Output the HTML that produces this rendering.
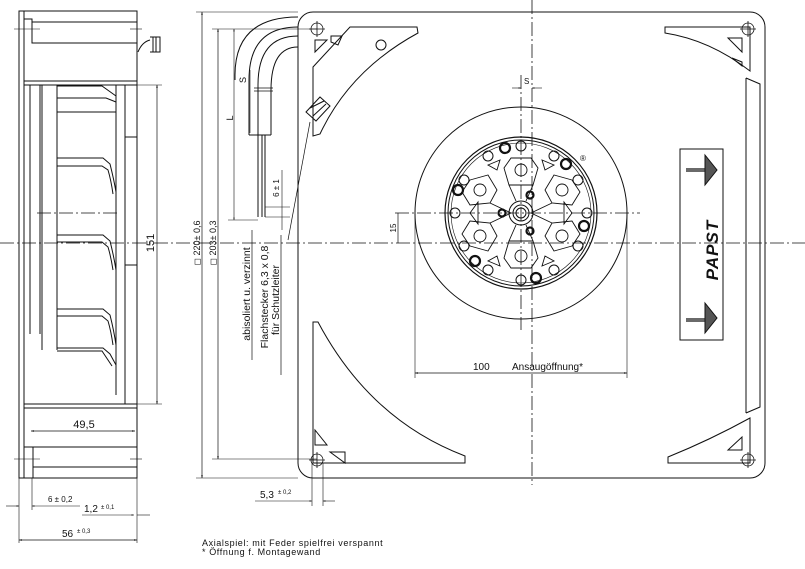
<!DOCTYPE html>
<html><head><meta charset="utf-8"><style>
html,body{margin:0;padding:0;background:#fff;}
svg{display:block;}
text{font-family:"Liberation Sans",sans-serif;fill:#111;stroke:none;}
</style></head><body>
<svg width="805" height="569" viewBox="0 0 805 569" xmlns="http://www.w3.org/2000/svg" fill="none" stroke="#111" stroke-width="1">
<defs>
<marker id="a" viewBox="0 0 10 10" refX="10" refY="5" markerWidth="6" markerHeight="4" orient="auto-start-reverse"><path d="M0,2 L10,5 L0,8z" fill="#111" stroke="none"/></marker>
</defs>
<!-- centerlines -->
<g stroke-dasharray="14 3 2 3" stroke-width="0.8">
<line x1="0" y1="243" x2="805" y2="243"/>
<line x1="532" y1="0" x2="532" y2="485"/>
<line x1="521" y1="75" x2="521" y2="330"/>
<line x1="395" y1="213" x2="640" y2="213"/>
<line x1="37" y1="213" x2="120" y2="213"/>
</g>

<!-- SIDE VIEW -->
<rect x="19" y="11" width="118" height="467"/>
<line x1="24" y1="11" x2="24" y2="478"/>
<line x1="24" y1="81" x2="137" y2="81"/>
<line x1="24" y1="85" x2="137" y2="85"/>
<line x1="24" y1="404" x2="137" y2="404"/>
<line x1="24" y1="408" x2="137" y2="408"/>
<polyline points="24,19 32,19 32,43 137,43"/>
<line x1="32" y1="22" x2="137" y2="22"/>
<line x1="14" y1="29" x2="40" y2="29" stroke-width="0.6"/>
<line x1="130" y1="29" x2="142" y2="29" stroke-width="0.6"/>
<path d="M138,52 Q142,42 150,40 M150,37 L160,37 L160,52 L150,52 M153,37 V52 M156,37 V52"/>
<line x1="30" y1="85" x2="30" y2="334"/>
<line x1="40" y1="85" x2="40" y2="334"/>
<line x1="42" y1="85" x2="42" y2="350"/>
<line x1="57" y1="85" x2="57" y2="350"/>
<line x1="116" y1="85" x2="116" y2="395"/>
<line x1="125" y1="85" x2="125" y2="404"/>
<rect x="125" y="85" width="12" height="52"/>
<line x1="125" y1="265" x2="137" y2="265"/>
<g>
<path d="M57,86 H102 L116,96 M57,98 H106 L116,102"/>
<line x1="57" y1="112" x2="116" y2="112"/>
<path d="M57,158 H103 L110,164 Q114,180 116,192 M57,166 H102 L108,170 Q111,180 113,194"/>
<path d="M57,235 H103 L110,241 Q114,257 116,270 M57,242 H102 L108,247 Q111,257 113,270"/>
<path d="M57,309 H103 L110,315 Q114,331 116,345 M57,316 H102 L108,321 Q111,331 113,345"/>
<path d="M57,348 H103 L110,354 L116,365 M57,351 H102 L112,366"/>
</g>
<line x1="33" y1="447" x2="137" y2="447"/>
<line x1="33" y1="467" x2="137" y2="467"/>
<polyline points="24,447 33,447 33,478"/>
<line x1="14" y1="459" x2="40" y2="459" stroke-width="0.6"/>
<line x1="130" y1="459" x2="142" y2="459" stroke-width="0.6"/>
<line x1="137" y1="85" x2="162" y2="85" stroke-width="0.6"/>
<line x1="137" y1="404" x2="162" y2="404" stroke-width="0.6"/>
<line x1="157" y1="85" x2="157" y2="404" marker-start="url(#a)" marker-end="url(#a)" stroke-width="0.7"/>
<text transform="translate(154,243) rotate(-90)" font-size="11" text-anchor="middle">151</text>
<line x1="31" y1="431" x2="135" y2="431" marker-start="url(#a)" marker-end="url(#a)" stroke-width="0.7"/>
<text x="84" y="428" font-size="11" text-anchor="middle">49,5</text>
<line x1="19" y1="478" x2="19" y2="543" stroke-width="0.6"/>
<line x1="137" y1="478" x2="137" y2="543" stroke-width="0.6"/>
<line x1="32" y1="478" x2="32" y2="510" stroke-width="0.6"/>
<line x1="6" y1="506" x2="19" y2="506" marker-end="url(#a)" stroke-width="0.6"/>
<line x1="32" y1="506" x2="80" y2="506" marker-start="url(#a)" stroke-width="0.6"/>
<text x="48" y="502" font-size="8">6 ± 0,2</text>
<line x1="82" y1="515" x2="134" y2="515" marker-end="url(#a)" stroke-width="0.6"/>
<line x1="137" y1="515" x2="150" y2="515" stroke-width="0.6"/>
<text x="84" y="512" font-size="10">1,2</text><text x="101" y="509" font-size="6">± 0,1</text>
<line x1="19" y1="540" x2="137" y2="540" marker-start="url(#a)" marker-end="url(#a)" stroke-width="0.7"/>
<text x="62" y="537" font-size="10">56</text><text x="77" y="533" font-size="6">± 0,3</text>

<!-- FRONT VIEW -->
<rect x="298" y="12" width="467" height="466" rx="15"/>
<line x1="196" y1="12" x2="298" y2="12" stroke-width="0.6"/>
<line x1="196" y1="478" x2="298" y2="478" stroke-width="0.6"/>
<line x1="202" y1="12" x2="202" y2="478" marker-start="url(#a)" marker-end="url(#a)" stroke-width="0.7"/>
<line x1="212" y1="29" x2="317" y2="29" stroke-width="0.6"/>
<line x1="212" y1="459" x2="317" y2="459" stroke-width="0.6"/>
<line x1="218" y1="29" x2="218" y2="459" marker-start="url(#a)" marker-end="url(#a)" stroke-width="0.7"/>
<text transform="translate(200,243) rotate(-90)" font-size="9" text-anchor="middle">◻ 220± 0,6</text>
<text transform="translate(216,243) rotate(-90)" font-size="9" text-anchor="middle">◻ 203± 0,3</text>
<g stroke-width="0.8">
<circle cx="317" cy="29" r="6"/><circle cx="748" cy="29" r="6"/><circle cx="317" cy="460" r="6"/><circle cx="748" cy="460" r="6"/>
<path d="M309,29h16M317,21v16M740,29h16M748,21v16M309,460h16M317,452v16M740,460h16M748,452v16"/>
</g>
<path d="M313,67 L350,27 L417,27 L418,33 Q350,70 320,134 L313,136 Z"/>
<path d="M315,40 L315,52 L327,40 Z M331,36 L342,36 L338,45 L331,42 Z"/>
<circle cx="381" cy="45" r="5"/>
<path d="M306,112 L320,97 L330,106 L316,121 Z M310,108 L324,101 M313,116 L326,104"/>
<path d="M313,322 L313,463 L465,463 L465,456 Q370,420 318,322 Z"/>
<path d="M315,430 L315,445 L327,445 Z M330,452 L345,452 L345,463 Z"/>
<path d="M665,27 L750,27 L750,71 Q710,40 665,33 Z"/>
<path d="M742,38 L742,52 L728,38 Z M732,58 L742,62 L742,66 Z"/>
<path d="M668,463 L750,463 L750,418 Q710,440 668,457 Z"/>
<path d="M742,450 L742,437 L728,450 Z"/>
<line x1="746" y1="78" x2="746" y2="413"/>
<path d="M746,78 L760,84 L760,407 L746,413"/>
<rect x="680" y="149" width="43" height="191"/>
<g stroke-width="1.2"><path d="M686,169 H705 M686,171 H705 M686,319 H705 M686,321 H705"/></g>
<path d="M705,155 L717,170 L705,185 Z M705,303 L717,318 L705,333 Z" fill="#555"/>
<text transform="translate(718,250) rotate(-90)" font-size="17" font-weight="bold" font-style="italic" text-anchor="middle" style="letter-spacing:1px">PAPST</text>
<circle cx="521" cy="213" r="106"/>
<circle cx="521" cy="213" r="76" stroke-width="1.2"/>
<circle cx="521" cy="213" r="73"/>
<circle cx="521" cy="213" r="70" stroke-width="0.6"/>
<g stroke-width="1">
<circle cx="521" cy="213" r="12"/><circle cx="521" cy="213" r="8"/><circle cx="521" cy="213" r="5"/>
</g>
<g stroke-width="0.9">
<path d="M511,158 L531,158 L538,168 L533,185 L509,185 L504,168 Z"/>
<path d="M511,268 L531,268 L538,258 L533,241 L509,241 L504,258 Z"/>
<path d="M470,180 L488,175 L497,190 L490,203 L470,205 L462,192 Z"/>
<path d="M572,180 L554,175 L545,190 L552,203 L572,205 L580,192 Z"/>
<path d="M470,246 L488,251 L497,236 L490,223 L470,221 L462,234 Z"/>
<path d="M572,246 L554,251 L545,236 L552,223 L572,221 L580,234 Z"/>
<circle cx="521" cy="170" r="6"/><circle cx="521" cy="256" r="6"/>
<circle cx="480" cy="190" r="6"/><circle cx="562" cy="190" r="6"/>
<circle cx="480" cy="236" r="6"/><circle cx="562" cy="236" r="6"/>
<path d="M490,203 L511,213 L490,223 M552,203 L531,213 L552,223 M509,185 L516,201 M533,185 L526,201 M509,241 L516,225 M533,241 L526,225"/>
<path d="M470,213 L478,202 L478,224 Z M572,213 L564,202 L564,224 Z M488,165 L500,160 L497,170 Z M554,165 L542,160 L545,170 Z M488,261 L500,266 L497,256 Z M554,261 L542,266 L545,256 Z"/>
</g>
<g stroke-width="1">
<circle cx="521" cy="146" r="5"/><circle cx="521" cy="280" r="5"/>
<circle cx="455" cy="213" r="5"/><circle cx="587" cy="213" r="5"/>
<circle cx="488" cy="156" r="5"/><circle cx="554" cy="156" r="5"/>
<circle cx="488" cy="270" r="5"/><circle cx="554" cy="270" r="5"/>
<circle cx="464" cy="180" r="5"/><circle cx="578" cy="180" r="5"/>
<circle cx="464" cy="246" r="5"/><circle cx="578" cy="246" r="5"/>
</g>
<g stroke-width="2.2">
<circle cx="505" cy="148" r="5"/><circle cx="566" cy="164" r="5"/>
<circle cx="458" cy="190" r="5"/><circle cx="584" cy="226" r="5"/>
<circle cx="475" cy="261" r="5"/><circle cx="536" cy="278" r="5"/>
<circle cx="530" cy="195" r="3.5"/><circle cx="502" cy="213" r="3.5"/><circle cx="530" cy="231" r="3.5"/>
</g>
<text x="580" y="161" font-size="8">®</text>
<line x1="512" y1="88" x2="521" y2="88" marker-end="url(#a)" stroke-width="0.6"/>
<line x1="542" y1="88" x2="532" y2="88" marker-end="url(#a)" stroke-width="0.6"/>
<text x="524" y="84" font-size="8">S</text>
<line x1="398" y1="213" x2="398" y2="243" stroke-width="0.7"/>
<text transform="translate(396,228) rotate(-90)" font-size="8" text-anchor="middle">15</text>
<line x1="415" y1="213" x2="415" y2="378" stroke-width="0.6"/>
<line x1="627" y1="213" x2="627" y2="378" stroke-width="0.6"/>
<line x1="415" y1="373" x2="627" y2="373" marker-start="url(#a)" marker-end="url(#a)" stroke-width="0.7"/>
<text x="473" y="370" font-size="10">100</text>
<text x="512" y="370" font-size="10">Ansaugöffnung*</text>
<path d="M298,17 Q235,17 235,75 L235,80"/>
<path d="M298,27 Q249,27 249,80 L249,135"/>
<path d="M298,36 Q258,36 258,85 L258,135"/>
<path d="M298,47 Q271,47 271,90 L271,135"/>
<line x1="249" y1="135" x2="271" y2="135"/>
<path d="M258,135 V217 M262,135 V217 M265,135 V217"/>
<path d="M254,88 H273 M254,91 H273" stroke-width="0.7"/>
<line x1="234" y1="29" x2="234" y2="220" marker-start="url(#a)" marker-end="url(#a)" stroke-width="0.6"/>
<line x1="228" y1="220" x2="258" y2="220" stroke-width="0.6"/>
<line x1="250" y1="70" x2="250" y2="133" stroke-width="0.6"/>
<text transform="translate(246,80) rotate(-90)" font-size="9" text-anchor="middle">S</text>
<text transform="translate(233,118) rotate(-90)" font-size="9" text-anchor="middle">L</text>
<line x1="265" y1="207" x2="290" y2="207" stroke-width="0.6"/>
<line x1="265" y1="217" x2="290" y2="217" stroke-width="0.6"/>
<line x1="282" y1="170" x2="282" y2="230" stroke-width="0.6"/>
<text transform="translate(279,188) rotate(-90)" font-size="8" text-anchor="middle">6 ± 1</text>
<line x1="310" y1="122" x2="288" y2="240" stroke-width="0.7"/>
<line x1="252" y1="230" x2="252" y2="360" stroke-width="0.7"/>
<line x1="281" y1="235" x2="281" y2="375" stroke-width="0.7"/>
<text transform="translate(250,294) rotate(-90)" font-size="10.5" text-anchor="middle">abisoliert u. verzinnt</text>
<text transform="translate(268,297) rotate(-90)" font-size="10.5" text-anchor="middle">Flachstecker 6,3 x 0,8</text>
<text transform="translate(279,300) rotate(-90)" font-size="10.5" text-anchor="middle">für Schutzleiter</text>
<line x1="312" y1="463" x2="312" y2="506" stroke-width="0.6"/>
<line x1="323" y1="463" x2="323" y2="506" stroke-width="0.6"/>
<line x1="255" y1="501" x2="312" y2="501" marker-end="url(#a)" stroke-width="0.6"/>
<line x1="335" y1="501" x2="323" y2="501" marker-end="url(#a)" stroke-width="0.6"/>
<text x="260" y="498" font-size="10">5,3</text><text x="278" y="494" font-size="6">± 0,2</text>
<text x="202" y="546" font-size="9" style="letter-spacing:0.6px">Axialspiel:  mit Feder spielfrei verspannt</text>
<text x="202" y="555" font-size="9" style="letter-spacing:0.6px">* Öffnung f. Montagewand</text>
</svg>
</body></html>
